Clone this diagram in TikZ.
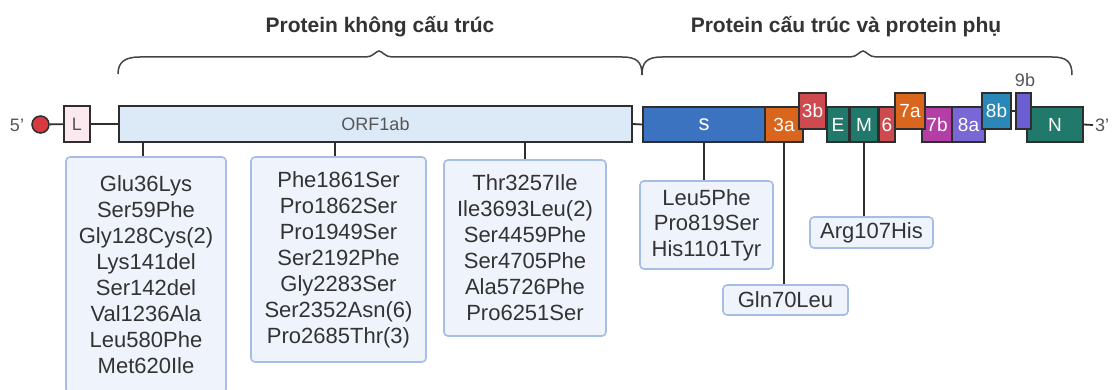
\documentclass[tikz,border=0pt]{standalone}
\usepackage{fontspec}
\setmainfont{Liberation Sans}
\begin{document}
\begin{tikzpicture}[x=1pt,y=-1pt,
  gb/.style={draw=gborder,line width=1.5pt,inner sep=0pt,text=white,font=\fontsize{19}{19}\selectfont},
  mbox/.style={draw=mborder,fill=mfill,line width=1.6pt,rounded corners=4pt,inner sep=0pt,align=center,text=tcol,font=\fontsize{22}{26}\selectfont},
  bb/.style={draw=gborder,line width=1.8pt},
  conn/.style={draw=gborder,line width=1.6pt},
  brc/.style={draw=bracecol,line width=1.5pt},
  ttl/.style={text=tcol,font=\bfseries\fontsize{21}{24}\selectfont,anchor=base},
  gl/.style={text=glcol,font=\fontsize{18}{18}\selectfont}]
\definecolor{gborder}{HTML}{2E2E2E}
\definecolor{mborder}{HTML}{A6BDE6}
\definecolor{mfill}{HTML}{EEF3FC}
\definecolor{tcol}{HTML}{333333}
\definecolor{glcol}{HTML}{555555}
\definecolor{bracecol}{HTML}{444444}
\definecolor{cS}{HTML}{3B73C0}
\definecolor{cOr}{HTML}{D9661C}
\definecolor{cRd}{HTML}{CF4A4F}
\definecolor{cTl}{HTML}{21796B}
\definecolor{cMg}{HTML}{B33EA6}
\definecolor{cPu}{HTML}{7A67D6}
\definecolor{cBl}{HTML}{2A88B9}
\definecolor{cPv}{HTML}{6B5ED3}
\definecolor{orffill}{HTML}{DCEAF8}
\definecolor{lfill}{HTML}{FCE9EF}
\definecolor{dotred}{HTML}{D8393F}

\useasboundingbox[fill=white] (0,0) rectangle (1112,390);

% titles and braces
\node[ttl] (t1) at (380,33) {Protein không cấu trúc};
\node[ttl] (t2) at (846,33) {Protein cấu trúc và protein phụ};
\draw[brc] (118,74) .. controls (118,62) and (125,57) .. (140,57) -- (366,57)
  .. controls (373,57) and (376,51) .. (379,51) .. controls (382,51) and (385,57) .. (392,57)
  -- (622,57) .. controls (637,57) and (642,62) .. (642,75);
\draw[brc] (642,75) .. controls (642,62) and (647,57) .. (662,57) -- (850,57)
  .. controls (857,57) and (860,51) .. (863,51) .. controls (866,51) and (869,57) .. (876,57)
  -- (1052,57) .. controls (1067,57) and (1072,62) .. (1072,75);

% backbone ends
\node[gl] (p5) at (17,125) {5'};
\node[gl,anchor=west,inner sep=2pt] (p3) at (1093,125) {3'};
\node[circle,draw=gborder,line width=1.5pt,fill=dotred,minimum size=17pt,inner sep=0pt] (cap) at (40.5,124.5) {};

% genes
\node[gb,fill=lfill,text=glcol,minimum width=26pt,minimum height=36pt,font=\fontsize{18}{18}\selectfont] (L) at (77,124) {L};
\node[gb,fill=orffill,text=glcol,minimum width=513pt,minimum height=36pt,font=\fontsize{18}{18}\selectfont] (orf) at (375.5,124) {ORF1ab};
\node[gb,fill=cS,minimum width=122pt,minimum height=35pt,font=\fontsize{22}{22}\selectfont] (s) at (704,124.5) {s};
\node[gb,fill=cOr,minimum width=38pt,minimum height=35pt] (a3) at (784,124.5) {3a};
\node[gb,fill=cRd,minimum width=27pt,minimum height=36pt] (b3) at (812.5,111) {3b};
\node[gb,fill=cTl,minimum width=22pt,minimum height=35pt] (e) at (838,124.5) {E};
\node[gb,fill=cTl,minimum width=28pt,minimum height=35pt] (m) at (864,124.5) {M};
\node[gb,fill=cRd,minimum width=16pt,minimum height=35pt] (g6) at (887,124.5) {6};
\node[gb,fill=cMg,minimum width=30pt,minimum height=35pt] (b7) at (937,124.5) {7b};
\node[gb,fill=cOr,minimum width=30pt,minimum height=36pt] (a7) at (910,111) {7a};
\node[gb,fill=cPu,minimum width=33pt,minimum height=35pt] (a8) at (968.5,124.5) {8a};
\node[gb,fill=cBl,minimum width=29pt,minimum height=36pt] (b8) at (996.5,111) {8b};
\node[gb,fill=cTl,minimum width=56pt,minimum height=35pt] (n) at (1055,124.5) {N};
\node[gb,fill=cPv,minimum width=15pt,minimum height=36pt] (b9) at (1023.5,111) {};
\node[gl] (l9b) at (1025,80) {9b};

% backbone connectors
\draw[bb] (cap) -- (L);
\draw[bb] (L) -- (orf);
\draw[bb] (orf.east) -- (s.west);
\draw[bb] (b8.east) -- (b9.west);
\draw[bb] (n.east) -- (p3.west);

% mutation boxes
\node[mbox,minimum width=160pt,minimum height=236pt] (m1) at (146,275)
  {Glu36Lys\\Ser59Phe\\Gly128Cys(2)\\Lys141del\\Ser142del\\Val1236Ala\\Leu580Phe\\Met620Ile};
\node[mbox,minimum width=175pt,minimum height=205pt] (m2) at (338.5,259.5)
  {Phe1861Ser\\Pro1862Ser\\Pro1949Ser\\Ser2192Phe\\Gly2283Ser\\Ser2352Asn(6)\\Pro2685Thr(3)};
\node[mbox,minimum width=162pt,minimum height=176pt] (m3) at (525,248)
  {Thr3257Ile\\Ile3693Leu(2)\\Ser4459Phe\\Ser4705Phe\\Ala5726Phe\\Pro6251Ser};
\node[mbox,minimum width=133pt,minimum height=88pt,font=\fontsize{22}{25.5}\selectfont] (ms) at (706.5,225)
  {Leu5Phe\\Pro819Ser\\His1101Tyr};
\node[mbox,minimum width=125pt,minimum height=30pt] (mg) at (785.5,300) {Gln70Leu};
\node[mbox,minimum width=123pt,minimum height=31pt] (mr) at (871.5,232.5) {Arg107His};

% mutation connectors
\draw[conn] (orf.south -| 143,0) -- (m1.north -| 143,0);
\draw[conn] (orf.south -| 335,0) -- (m2.north -| 335,0);
\draw[conn] (orf.south -| m3.north) -- (m3.north);
\draw[conn] (s.south) -- (s.south |- ms.north);
\draw[conn] (a3.south) -- (a3.south |- mg.north);
\draw[conn] (m.south) -- (m.south |- mr.north);
\end{tikzpicture}
\end{document}
